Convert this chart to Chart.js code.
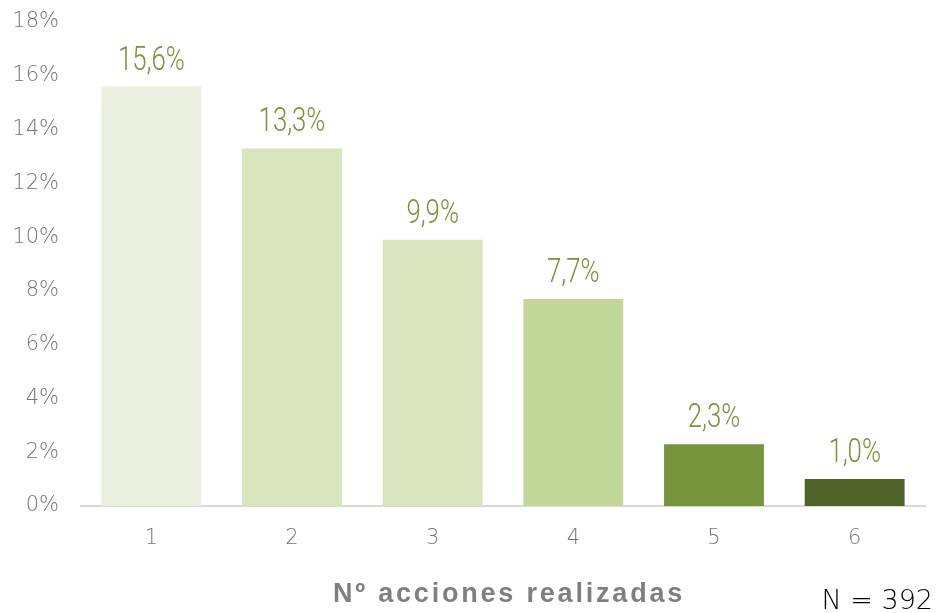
<!DOCTYPE html>
<html>
<head>
<meta charset="utf-8">
<script src="https://cdn.jsdelivr.net/npm/chart.js@4.4.0/dist/chart.umd.min.js"></script>
<style>
  html, body { margin: 0; padding: 0; background: #fff; }
  #wrap { width: 938px; height: 613px; position: relative; }
</style>
</head>
<body>
<div id="wrap"><canvas id="chart"></canvas></div>
<script>
var categories = ['1', '2', '3', '4', '5', '6'];
var values = [15.6, 13.3, 9.9, 7.7, 2.3, 1.0];
var bar_colors = ['#EBF0DE', '#D8E4BC', '#D8E4BC', '#C4D79B', '#77933C', '#4F6228'];
var x_title = 'Nº acciones realizadas';
var n_text = 'N = 392';

var label_clr = '#77933C';
var tick_clr = '#767676';

// value labels above each bar, comma as decimal sign, narrow look
var barLabels = {
  id: 'barLabels',
  afterDatasetsDraw: function(chart) {
    var ctx = chart.ctx;
    var meta = chart.getDatasetMeta(0);
    meta.data.forEach(function(bar, i) {
      var txt = values[i].toFixed(1).replace('.', ',') + '%';
      ctx.save();
      ctx.translate(bar.x, bar.y - 17);
      ctx.scale(0.78, 1);
      ctx.fillStyle = label_clr;
      ctx.font = '300 33px Roboto, sans-serif';
      ctx.textAlign = 'center';
      ctx.textBaseline = 'alphabetic';
      ctx.fillText(txt, 0, 0);
      ctx.restore();
    });
  }
};

// axis title and sample size under the chart
var bottomTexts = {
  id: 'bottomTexts',
  afterDraw: function(chart) {
    var ctx = chart.ctx;
    ctx.save();
    ctx.textBaseline = 'alphabetic';
    ctx.textAlign = 'center';
    ctx.fillStyle = '#7F7F7F';
    ctx.font = 'bold 27px "Liberation Sans", Arial, sans-serif';
    ctx.letterSpacing = '2.8px';
    ctx.fillText(x_title, 509, 602);
    ctx.textAlign = 'right';
    ctx.fillStyle = '#000';
    ctx.font = '200 27px "DejaVu Sans", sans-serif';
    ctx.letterSpacing = '0px';
    ctx.fillText(n_text, 933, 609);
    ctx.restore();
  }
};

new Chart(document.getElementById('chart'), {
  type: 'bar',
  data: {
    labels: categories,
    datasets: [{
      data: values,
      backgroundColor: bar_colors,
      borderWidth: 0,
      barPercentage: 0.71,
      categoryPercentage: 1.0
    }]
  },
  options: {
    responsive: true,
    maintainAspectRatio: false,
    animation: false,
    layout: { padding: { top: 22, right: 13, left: 0, bottom: 0 } },
    plugins: {
      legend: { display: false },
      tooltip: { enabled: false }
    },
    scales: {
      x: {
        grid: { display: false, drawTicks: false },
        border: { display: true, color: '#D9D9D9', width: 2 },
        afterFit: function(scale) { scale.height = 107; },
        ticks: {
          color: tick_clr,
          padding: 20,
          font: { family: '"DejaVu Sans"', weight: '200', size: 21 }
        }
      },
      y: {
        min: 0,
        max: 18,
        grid: { display: false, drawTicks: false },
        border: { display: false },
        afterFit: function(scale) {
          scale.width = 81;
          scale.paddingTop = 0;
        },
        ticks: {
          stepSize: 2,
          color: tick_clr,
          padding: 22,
          font: { family: '"DejaVu Sans"', weight: '200', size: 21 },
          callback: function(value) { return value + '%'; }
        }
      }
    }
  },
  plugins: [barLabels, bottomTexts]
});
</script>
</body>
</html>
